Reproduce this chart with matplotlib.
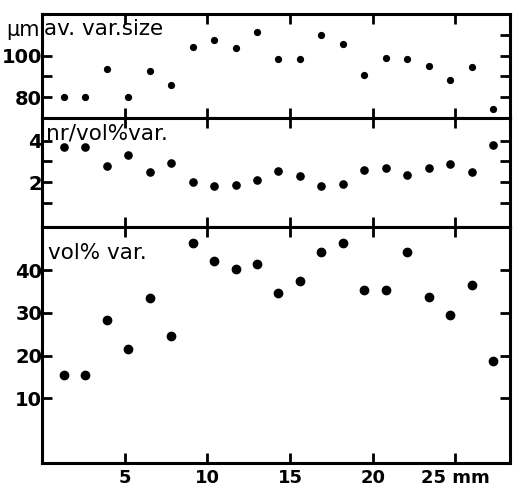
import matplotlib
matplotlib.use('Agg')
import matplotlib.pyplot as plt

# position along the sample (mm)
pos_mm = [1.3, 2.6, 3.9, 5.2, 6.5, 7.8, 9.1, 10.4, 11.7, 13.0, 14.3,
          15.6, 16.9, 18.2, 19.5, 20.8, 22.1, 23.4, 24.7, 26.0, 27.3]

# av. var. size (um)
var_size = [80.2, 80.2, 93.7, 80.2, 92.4, 86.0, 104.1, 107.6, 103.5, 111.3, 98.3,
             98.6, 109.9, 105.4, 90.5, 98.9, 98.4, 94.8, 88.3, 94.5, 74.5]

# nr / vol% var.
nr_per_vol = [3.71, 3.71, 2.78, 3.32, 2.51, 2.95, 2.03, 1.80, 1.87, 2.13, 2.56,
              2.29, 1.80, 1.92, 2.59, 2.70, 2.33, 2.67, 2.90, 2.49, 3.80]

# vol% var.
vol_pct = [15.5, 15.5, 28.2, 21.5, 33.5, 24.5, 46.4, 42.2, 40.2, 41.4, 34.7,
           37.5, 44.3, 46.3, 35.4, 35.4, 44.3, 33.6, 29.5, 36.4, 18.6]

x_ticks = [5, 10, 15, 20, 25]
x_labels = ['5', '10', '15', '20', '25 mm']


def style(ax):
    for s in ax.spines.values():
        s.set_linewidth(2.2)
    ax.set_xlim(0, 28.3)
    ax.set_xticks(x_ticks)
    ax.tick_params(direction='in', length=7.5, width=2, top=True, right=True,
                   labelsize=14, pad=0)
    for lab in ax.get_yticklabels():
        lab.set_fontweight('bold')


fig = plt.figure(figsize=(5.14, 4.87), dpi=100)
left, width = 0.082, 0.910
ax1 = fig.add_axes([left, 0.758, width, 0.213])
ax2 = fig.add_axes([left, 0.534, width, 0.224], sharex=ax1)
ax3 = fig.add_axes([left, 0.049, width, 0.485], sharex=ax1)

# top panel
ax1.plot(pos_mm, var_size, 'o', color='black', markersize=4.2)
ax1.set_ylim(70, 120)
ax1.set_yticks([80, 90, 100, 110])
ax1.set_yticklabels(['80', '', '100', ''])
style(ax1)
ax1.yaxis.get_major_ticks()[3].tick1line.set_visible(False)
ax1.tick_params(labelbottom=False)
ax1.text(0.004, 0.95, 'av. var.size', transform=ax1.transAxes, fontsize=15.5,
         va='top', ha='left')
ax1.text(-0.006, 0.85, 'µm', transform=ax1.transAxes, fontsize=15,
         va='center', ha='right')

# middle panel
ax2.plot(pos_mm, nr_per_vol, 'o', color='black', markersize=5.2)
ax2.set_ylim(-0.15, 5.1)
ax2.set_yticks([1, 2, 3, 4])
ax2.set_yticklabels(['', '2', '', '4'])
style(ax2)
ax2.tick_params(labelbottom=False)
ax2.text(0.008, 0.95, 'nr/vol%var.', transform=ax2.transAxes, fontsize=15.5,
         va='top', ha='left')

# bottom panel
ax3.plot(pos_mm, vol_pct, 'o', color='black', markersize=6)
ax3.set_ylim(-5.2, 50.1)
ax3.set_yticks([10, 20, 30, 40])
style(ax3)
ax3.set_xticklabels(x_labels, fontweight='bold', fontsize=13)
ax3.tick_params(axis='x', pad=4)
ax3.text(0.013, 0.93, 'vol% var.', transform=ax3.transAxes, fontsize=15.5,
         va='top', ha='left')

fig.savefig('out.png', dpi=100)
